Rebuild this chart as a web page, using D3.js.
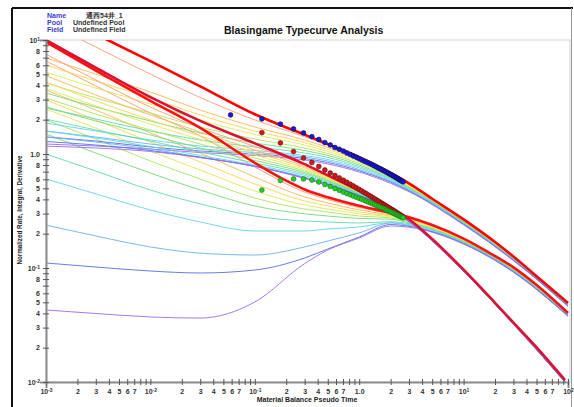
<!DOCTYPE html>
<html>
<head>
<meta charset="utf-8">
<script src="https://cdn.jsdelivr.net/npm/d3@7"></script>
<style>
body { margin: 0; background: #fff; }
svg { display: block; font-family: "Liberation Sans", Arial, sans-serif; }
</style>
</head>
<body>
<svg width="574" height="407"></svg>
<script>
// time grids for the thin type curves
var tGrid = [0.001, 0.003, 0.01, 0.03, 0.1, 0.3, 0.5, 1, 2, 3, 10, 30, 100];
var tGridRate = [0.001, 0.003, 0.01, 0.03, 0.1, 0.3, 0.5, 1, 2, 3, 10, 30, 93];

// rate integral curves, one row per reD (orange -> violet)
var integralValues = [
  [14.4, 8.68, 5.02, 3.13, 1.99, 1.419, 1.197, 0.928, 0.676, 0.548, 0.2647, 0.1246, 0.0490],
  [6.95, 5.02, 3.50, 2.43, 1.725, 1.327, 1.140, 0.904, 0.665, 0.540, 0.262, 0.1239, 0.0487],
  [6.03, 4.37, 3.10, 2.20, 1.591, 1.261, 1.095, 0.877, 0.652, 0.531, 0.2594, 0.1229, 0.0484],
  [5.24, 3.79, 2.74, 1.99, 1.483, 1.199, 1.052, 0.851, 0.639, 0.523, 0.2569, 0.1221, 0.0481],
  [4.20, 3.10, 2.29, 1.725, 1.354, 1.129, 1.010, 0.825, 0.626, 0.514, 0.2543, 0.1211, 0.0478],
  [3.43, 2.58, 1.948, 1.528, 1.249, 1.073, 0.970, 0.801, 0.613, 0.506, 0.2518, 0.1204, 0.0476],
  [2.53, 2.03, 1.591, 1.327, 1.152, 1.020, 0.932, 0.777, 0.601, 0.498, 0.2490, 0.1195, 0.0473],
  [1.870, 1.591, 1.327, 1.175, 1.073, 0.970, 0.895, 0.754, 0.589, 0.490, 0.2466, 0.1187, 0.0470],
  [1.591, 1.410, 1.223, 1.106, 1.031, 0.941, 0.868, 0.731, 0.577, 0.482, 0.2441, 0.1178, 0.0467],
  [1.410, 1.300, 1.152, 1.0625, 1.0, 0.913, 0.842, 0.712, 0.566, 0.475, 0.2416, 0.1171, 0.0464],
  [1.223, 1.175, 1.106, 1.031, 0.970, 0.886, 0.818, 0.695, 0.553, 0.467, 0.2392, 0.1161, 0.0461]
];

// rate curves
var rateValues = [
  [7.51, 4.46, 2.58, 1.691, 1.164, 0.801, 0.641, 0.471, 0.3395, 0.2658, 0.0960, 0.0330, 0.01035],
  [4.87, 3.29, 2.20, 1.56, 1.084, 0.777, 0.631, 0.468, 0.3374, 0.2642, 0.0956, 0.0329, 0.0103],
  [4.28, 2.92, 1.99, 1.439, 1.031, 0.754, 0.621, 0.464, 0.336, 0.263, 0.0953, 0.0327, 0.0103],
  [3.76, 2.64, 1.83, 1.340, 0.980, 0.731, 0.610, 0.460, 0.3346, 0.262, 0.0949, 0.0327, 0.0102],
  [3.10, 2.24, 1.624, 1.223, 0.922, 0.709, 0.597, 0.456, 0.3332, 0.261, 0.0947, 0.0326, 0.0102],
  [2.59, 1.948, 1.468, 1.129, 0.877, 0.688, 0.585, 0.451, 0.3319, 0.260, 0.0945, 0.0325, 0.0102],
  [2.02, 1.624, 1.300, 1.041, 0.834, 0.668, 0.574, 0.447, 0.3306, 0.259, 0.0941, 0.0324, 0.0101],
  [1.591, 1.382, 1.164, 0.970, 0.801, 0.648, 0.562, 0.442, 0.3293, 0.258, 0.0939, 0.0323, 0.0101],
  [1.410, 1.274, 1.106, 0.941, 0.785, 0.628, 0.551, 0.437, 0.328, 0.257, 0.0935, 0.0322, 0.0101],
  [1.287, 1.199, 1.073, 0.932, 0.777, 0.616, 0.540, 0.432, 0.3266, 0.256, 0.0933, 0.0322, 0.0101],
  [1.171, 1.129, 1.052, 0.932, 0.780, 0.610, 0.529, 0.428, 0.3253, 0.2547, 0.0930, 0.0321, 0.0100]
];

// rate integral derivative curves
var derivValues = [
  [6.54, 3.95, 2.29, 1.439, 0.769, 0.464, 0.399, 0.3395, 0.2987, 0.2734, 0.1793, 0.1005, 0.0400],
  [3.64, 2.43, 1.528, 1.020, 0.628, 0.420, 0.372, 0.323, 0.2916, 0.2685, 0.1775, 0.0996, 0.0398],
  [2.98, 1.99, 1.274, 0.851, 0.547, 0.387, 0.350, 0.310, 0.2858, 0.2636, 0.1757, 0.0987, 0.0396],
  [2.48, 1.691, 1.06, 0.724, 0.474, 0.357, 0.3293, 0.2987, 0.2802, 0.2589, 0.1739, 0.0978, 0.0393],
  [1.99, 1.354, 0.868, 0.604, 0.411, 0.3293, 0.310, 0.2858, 0.2746, 0.2542, 0.1722, 0.0969, 0.0391],
  [1.496, 1.020, 0.681, 0.483, 0.350, 0.2987, 0.2858, 0.272, 0.268, 0.2496, 0.1705, 0.0960, 0.0389],
  [1.0, 0.709, 0.483, 0.365, 0.2858, 0.2584, 0.2533, 0.2481, 0.255, 0.2451, 0.1688, 0.0952, 0.0386],
  [0.604, 0.447, 0.323, 0.2533, 0.2112, 0.2112, 0.2198, 0.2290, 0.250, 0.2407, 0.1670, 0.0943, 0.0384],
  [0.238, 0.191, 0.153, 0.135, 0.130, 0.153, 0.1725, 0.203, 0.2481, 0.2364, 0.1654, 0.0935, 0.0382],
  [0.1106, 0.102, 0.0941, 0.0904, 0.0960, 0.1224, 0.1468, 0.1870, 0.2407, 0.2321, 0.1637, 0.0926, 0.0379],
  [0.0428, 0.0399, 0.0372, 0.0364, 0.0503, 0.1092, 0.1438, 0.1833, 0.2336, 0.2280, 0.1621, 0.0918, 0.0377]
];

// smallest reD curves (drawn thick red)
var integralRed = [[0.002, 13.6], [0.0039, 10], [0.01, 6.52], [0.03, 3.92], [0.1, 2.23], [0.2, 1.71], [0.3, 1.48], [0.5, 1.22], [1, 0.94], [2, 0.683], [3, 0.553], [5, 0.405], [10, 0.267], [20, 0.169], [30, 0.126], [50, 0.0847], [100, 0.0493]];
var rateRed = [[0.001, 10], [0.003, 5.71], [0.01, 3.15], [0.03, 1.95], [0.1, 1.24], [0.3, 0.814], [0.5, 0.650], [1, 0.476], [2, 0.342], [3, 0.268], [5, 0.180], [10, 0.0966], [20, 0.0495], [30, 0.0332], [50, 0.0201], [93.6, 0.0104]];
var derivRed = [[0.001, 9.60], [0.003, 5.39], [0.01, 2.92], [0.03, 1.694], [0.1, 0.837], [0.2, 0.583], [0.3, 0.488], [0.5, 0.417], [1, 0.351], [2, 0.305], [3, 0.2785], [5, 0.2383], [10, 0.1811], [20, 0.1272], [30, 0.1014], [50, 0.0710], [100, 0.0403]];

// well data
var dataTime = [0.0586, 0.117, 0.176, 0.235, 0.293, 0.352, 0.41, 0.469, 0.528, 0.586, 0.645, 0.704, 0.762, 0.821, 0.879, 0.938, 0.997, 1.055, 1.114, 1.172, 1.231, 1.29, 1.348, 1.407, 1.465, 1.524, 1.583, 1.641, 1.7, 1.758, 1.817, 1.876, 1.934, 1.993, 2.051, 2.11, 2.169, 2.227, 2.286, 2.344, 2.403, 2.462, 2.52, 2.579, 2.638];
var dataIntegral = [2.20, 2.03, 1.83, 1.66, 1.53, 1.42, 1.34, 1.26, 1.20, 1.14, 1.10, 1.06, 1.02, 0.99, 0.96, 0.936, 0.911, 0.889, 0.868, 0.851, 0.834, 0.817, 0.801, 0.785, 0.769, 0.754, 0.742, 0.730, 0.718, 0.707, 0.695, 0.684, 0.673, 0.662, 0.653, 0.644, 0.635, 0.626, 0.617, 0.608, 0.600, 0.591, 0.584, 0.577, 0.570];
var dataRate = [null, 1.54, 1.25, 1.05, 0.922, 0.842, 0.777, 0.724, 0.681, 0.648, 0.616, 0.589, 0.565, 0.543, 0.524, 0.506, 0.490, 0.475, 0.460, 0.448, 0.436, 0.425, 0.414, 0.404, 0.395, 0.386, 0.378, 0.370, 0.363, 0.356, 0.348, 0.342, 0.336, 0.330, 0.324, 0.319, 0.314, 0.309, 0.304, 0.299, 0.295, 0.291, 0.287, 0.283, 0.279];
var dataDeriv = [null, 0.483, 0.585, 0.604, 0.604, 0.591, 0.568, 0.540, 0.519, 0.498, 0.480, 0.464, 0.450, 0.439, 0.428, 0.418, 0.409, 0.401, 0.393, 0.385, 0.378, 0.372, 0.365, 0.359, 0.353, 0.348, 0.342, 0.337, 0.333, 0.328, 0.323, 0.319, 0.315, 0.311, 0.307, 0.304, 0.300, 0.296, 0.293, 0.290, 0.287, 0.284, 0.281, 0.279, 0.276];

var headerLabels = ["Name", "Pool", "Field"];
var headerValues = ["通西54井_1", "Undefined Pool", "Undefined Field"];

var curveColors = ["#ff9a70", "#ffb454", "#ffd44f", "#dfe854", "#aae45c", "#72dc72", "#62d8aa", "#64d4ee", "#6cb0f6", "#5470e8", "#9c6ce6"];

var svg = d3.select("svg"),
    width = +svg.attr("width"),
    height = +svg.attr("height");

var x = d3.scaleLog().domain([1e-3, 1e2]).range([46, 568]);
var y = d3.scaleLog().domain([1e-2, 1e1]).range([382, 40]);

// outer frame
svg.append("line").attr("x1", 12).attr("x2", 12).attr("y1", 8).attr("y2", height).attr("stroke", "#111").attr("stroke-width", 2);
svg.append("line").attr("x1", 12).attr("x2", 573).attr("y1", 8).attr("y2", 8).attr("stroke", "#111").attr("stroke-width", 2);
svg.append("line").attr("x1", 571.5).attr("x2", 571.5).attr("y1", 8).attr("y2", height).attr("stroke", "#999").attr("stroke-width", 1);

// header
var header = svg.append("g").attr("font-size", "7px").attr("font-weight", "bold");
header.selectAll(".hl").data(headerLabels).enter().append("text")
    .attr("x", 47).attr("y", function(d, i) { return 17.5 + i * 7.2; })
    .attr("fill", "#3b3bd2").text(function(d) { return d; });
header.selectAll(".hv").data(headerValues).enter().append("text")
    .attr("x", function(d, i) { return i == 0 ? 86 : 73; }).attr("y", function(d, i) { return 17.5 + i * 7.2; })
    .attr("fill", "#333").text(function(d) { return d; });

svg.append("text").attr("x", 224).attr("y", 33.5)
    .attr("font-size", "10.5px").attr("font-weight", "bold").attr("fill", "#111")
    .text("Blasingame Typecurve Analysis");

// plot frame
svg.append("rect").attr("x", 46).attr("y", 40).attr("width", 524).attr("height", 342)
    .attr("fill", "none").attr("stroke", "#d4d4d4").attr("stroke-width", 1);

svg.append("clipPath").attr("id", "plotclip").append("rect")
    .attr("x", 46).attr("y", 40).attr("width", 524).attr("height", 342);

var plot = svg.append("g").attr("clip-path", "url(#plotclip)");

var line = d3.line()
    .x(function(d) { return x(d[0]); })
    .y(function(d) { return y(d[1]); })
    .curve(d3.curveMonotoneX);

function pairs(ts, vs) { return vs.map(function(v, i) { return [ts[i], v]; }); }

function drawFamily(rows, ts) {
  plot.append("g").selectAll("path").data(rows).enter().append("path")
      .attr("d", function(d) { return line(pairs(ts, d)); })
      .attr("fill", "none")
      .attr("stroke", function(d, i) { return curveColors[i]; })
      .attr("stroke-width", 1)
      .attr("stroke-opacity", 0.9);
}

drawFamily(derivValues, tGrid);
drawFamily(integralValues, tGrid);
drawFamily(rateValues, tGridRate);

[[derivRed, "#ff1010"], [integralRed, "#ff0000"], [rateRed, "#dc1030"]].forEach(function(c) {
  plot.append("path").attr("d", line(c[0]))
      .attr("fill", "none").attr("stroke", c[1]).attr("stroke-width", 2.6);
});

// data points
function drawDots(vals, fill, stroke) {
  var pts = dataTime.map(function(t, i) { return [t, vals[i]]; }).filter(function(d) { return d[1] != null; });
  plot.append("g").selectAll("circle").data(pts).enter().append("circle")
      .attr("cx", function(d) { return x(d[0]); })
      .attr("cy", function(d) { return y(d[1]); })
      .attr("r", 2.4)
      .attr("fill", fill).attr("stroke", stroke).attr("stroke-width", 0.6);
}
drawDots(dataIntegral, "#1a1ad0", "#0a0a60");
drawDots(dataRate, "#d01818", "#601010");
drawDots(dataDeriv, "#22d022", "#187018");

// axes
function mant(v) { return Math.round(v / Math.pow(10, Math.floor(Math.log10(v) + 1e-9))); }
function expo(v) { return Math.round(Math.log10(v)); }

var xAxis = d3.axisBottom(x).tickSize(6).tickPadding(3)
    .tickFormat(function(v) { var m = mant(v); return m == 1 ? "dec" : (m <= 7 ? m : ""); });
var yAxis = d3.axisLeft(y).tickSize(6).tickPadding(3)
    .tickFormat(function(v) { var m = mant(v); return m == 1 ? "dec" : ([2, 3, 4, 5, 6, 8].indexOf(m) >= 0 ? m : ""); });

function styleAxis(g, horizontal) {
  g.select(".domain").attr("stroke", "#8c8c8c").attr("stroke-width", 2);
  g.selectAll(".tick line").attr("stroke", "#555").attr("stroke-width", 1);
  if (horizontal) g.selectAll(".tick line").attr("y1", -3).attr("y2", 3);
  else g.selectAll(".tick line").attr("x1", 3).attr("x2", -3);
  g.selectAll(".tick text").attr("font-size", "7px").attr("font-weight", "bold").attr("fill", "#333")
      .attr("font-family", "Liberation Sans, Arial, sans-serif");
  g.selectAll(".tick text").each(function(v) {
    var t = d3.select(this);
    if (t.text() != "dec") return;
    var e = expo(v);
    if (e == 0) { t.text("1.0"); return; }
    t.text("10");
    t.append("tspan").attr("dy", "-0.4em").attr("font-size", "5px").text(e);
  });
}

var gx = svg.append("g").attr("transform", "translate(0,382)").call(xAxis);
gx.call(styleAxis, true);
gx.selectAll(".tick text").attr("y", 7);
var gy = svg.append("g").attr("transform", "translate(46,0)").call(yAxis);
gy.call(styleAxis, false);
gy.selectAll(".tick text").attr("x", -6);

svg.append("text").attr("x", 307).attr("y", 402).attr("text-anchor", "middle")
    .attr("font-size", "7px").attr("font-weight", "bold").attr("fill", "#222")
    .text("Material Balance Pseudo Time");
svg.append("text").attr("transform", "translate(22,210) rotate(-90)").attr("text-anchor", "middle")
    .attr("font-size", "6.3px").attr("font-weight", "bold").attr("fill", "#222")
    .text("Normalized Rate, Integral, Derivative");
</script>
</body>
</html>
